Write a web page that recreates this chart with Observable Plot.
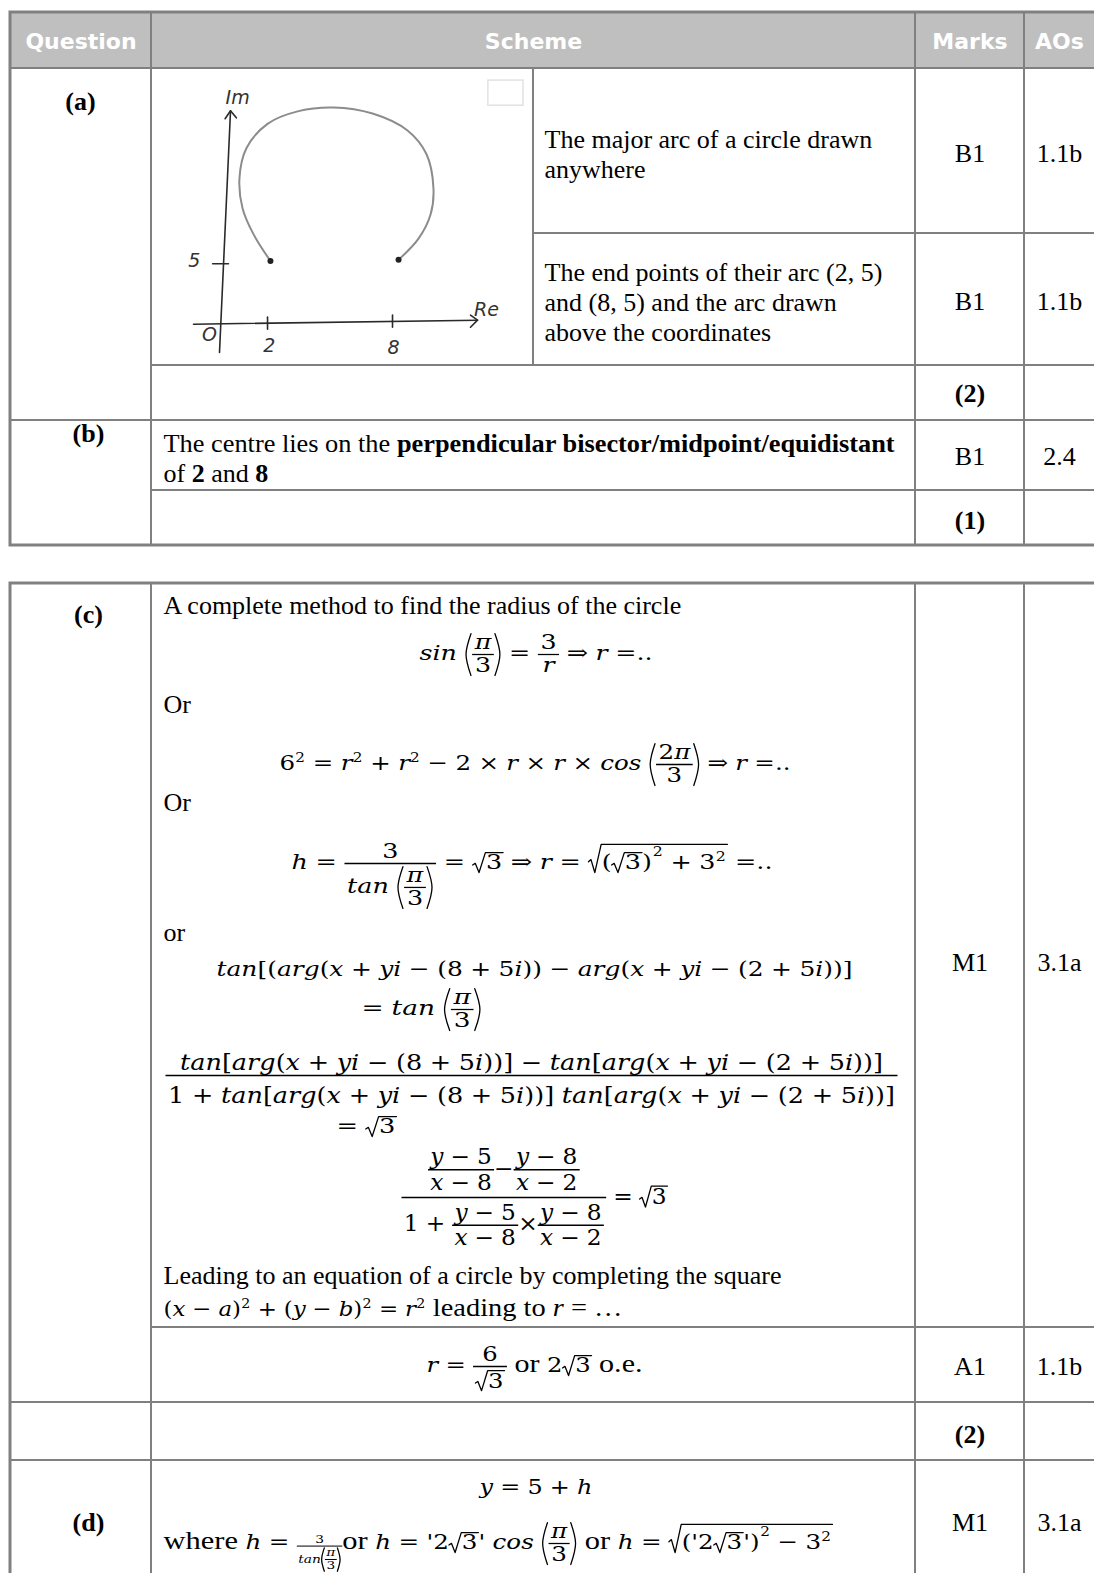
<!DOCTYPE html>
<html><head><meta charset="utf-8">
<script src="https://cdn.jsdelivr.net/npm/d3@7"></script>
<script src="https://cdn.jsdelivr.net/npm/@observablehq/plot@0.6"></script>
<style>
html,body{margin:0;padding:0;background:#fff;overflow:hidden}
#wrap{position:relative;width:1094px;height:1573px;overflow:hidden;background:#fff}
</style>
</head><body><div id="wrap"></div>
<script>
// ================= DATA =================
const headers = ["Question", "Scheme", "Marks", "AOs"];
const partLabels = ["(a)", "(b)", "(c)", "(d)"];
const marksCol = ["B1", "B1", "(2)", "B1", "(1)", "M1", "A1", "(2)", "M1"];
const aosCol = ["1.1b", "1.1b", "", "2.4", "", "3.1a", "1.1b", "", "3.1a"];
const textA1 = ["The major arc of a circle drawn", "anywhere"];
const textA2 = ["The end points of their arc (2, 5)", "and (8, 5) and the arc drawn", "above the coordinates"];
const textB = [
  [["The centre lies on the ", false], ["perpendicular bisector/midpoint/equidistant", true]],
  [["of ", false], ["2", true], [" and ", false], ["8", true]]
];
const textC = ["A complete method to find the radius of the circle", "Or", "Or", "or",
               "Leading to an equation of a circle by completing the square"];
const numerLine = "tan[arg(x + yi − (8 + 5i))] − tan[arg(x + yi − (2 + 5i))]";
const denomLine = "1 + tan[arg(x + yi − (8 + 5i))] tan[arg(x + yi − (2 + 5i))]";
const argLine = "tan[(arg(x + yi − (8 + 5i)) − arg(x + yi − (2 + 5i))]";

// hand sketch (Argand diagram), read in Re / Im units
const arcRe = [2.16, 1.35, 0.82, 0.67, 1.01, 2.02, 3.51, 5.19, 7.07, 8.75, 9.66, 10.0, 9.86, 9.28, 8.32];
const arcIm = [4.9, 7.1, 9.25, 11.75, 14.25, 16.25, 17.3, 17.6, 17.1, 15.7, 13.75, 10.9, 8.75, 6.75, 5.0];
const skStrokes = [
  {id: "v",  pts: [[-0.29, -2.67], [0.24, 17.33]]},
  {id: "va", pts: [[-0.02, 16.67], [0.24, 17.33], [0.52, 16.75]]},
  {id: "h",  pts: [[-1.54, -0.33], [12.12, 0]]},
  {id: "ha", pts: [[11.78, 0.42], [12.12, 0], [11.78, -0.58]]},
  {id: "t2", pts: [[2.02, 0.25], [2.02, -0.75]]},
  {id: "t8", pts: [[8.03, 0.42], [8.03, -0.58]]},
  {id: "t5", pts: [[-0.62, 4.67], [0.14, 4.67]]}
];
const skLabels = [
  {t: "Im", re: 0.58, im: 18.4}, {t: "Re", re: 12.55, im: 0.83}, {t: "O", re: -0.77, im: -1.25},
  {t: "2", re: 2.1, im: -2.1}, {t: "8", re: 8.08, im: -2.33}, {t: "5", re: -1.5, im: 4.9}
];

// ================= LAYOUT =================
const W = 1094, H = 1573;
const SERIF = "Liberation Serif", MATHF = "DejaVu Serif", SANS = "DejaVu Sans";
const BODY = 26, MS = 21, SPACE_EM = 0.3;
const C = {c0: 10, c1: 151, c2: 533, c3: 915, c4: 1024, c5: 1100};
const T1 = {top: 12, head: 68, split: 233, r2: 365, b: 420, r1: 490, bot: 545};
const T2 = {top: 583, a1: 1327, r2: 1402, d: 1460, bot: 1640};
const markX = (C.c3 + C.c4) / 2, aoX = 1059;
const markY = [153, 301, 393, 456, 520, 962, 1366, 1434, 1522];
const partPos = [[80, 101], [88, 433], [88, 614], [88, 1522]];

// ---------- tiny math layout engine ----------
const ctx = document.createElement("canvas").getContext("2d");
const out = {texts: [], segs: [], rads: [], parens: []};
let pid = 0;
const fontStr = (fs, it, bold, fam) => `${it ? "italic " : ""}${bold ? "bold " : ""}${fs}px "${fam}"`;
function measure(str, fs, it, bold, fam) { ctx.font = fontStr(fs, it, bold, fam); return ctx.measureText(str).width; }
function txt(str, o = {}) {
  const {it = false, bold = false, fam = MATHF, size = null, fill = "black"} = o;
  return s => {
    const fs = size ?? s;
    const w = measure(str, fs, it, bold, fam);
    return {w, a: fs * 0.7, d: fs * 0.12, draw(x, b) { out.texts.push({x, y: b, text: str, size: fs, it, bold, fam, fill, k: 1}); }};
  };
}
const gap = n => s => ({w: n * SPACE_EM * s, a: 0, d: 0, draw() {}});
const sq = s => {
  const fs = 0.62 * s; const w = measure("2", fs, false, false, MATHF);
  return {w: w + 0.03 * s, a: 0.42 * s + 0.7 * fs, d: 0,
    draw(x, b) { out.texts.push({x: x + 0.01 * s, y: b - 0.42 * s, text: "2", size: fs, it: false, bold: false, fam: MATHF, fill: "black", k: 1}); }};
};
function row(...kids) {
  return s => {
    const bs = kids.map(f => f(s));
    return {w: d3.sum(bs, b => b.w), a: d3.max(bs, b => b.a), d: d3.max(bs, b => b.d),
      draw(x, b) { let cx = x; for (const bb of bs) { bb.draw(cx, b); cx += bb.w; } }};
  };
}
function m(str) {
  const parts = str.match(/[A-Za-zπ]+| +|²|[^A-Za-zπ ²]+/g);
  return row(...parts.map(p => p[0] === " " ? gap(p.length) : p === "²" ? sq : txt(p, {it: /[A-Za-zπ]/.test(p)})));
}
const scaled = (node, k) => s => node(s * k);
const tx = (str, o = {}) => txt(str, {fam: SERIF, size: BODY, ...o});
function frac(num, den, dg = 0.15, ng = 0.14) {
  return s => {
    const n = num(s), dd = den(s);
    const pad = 0.1 * s, w = Math.max(n.w, dd.w) + 2 * pad, ax = 0.28 * s;
    const nb = ng * s + n.d, db = dg * s + dd.a;
    return {w, a: ax + nb + n.a, d: Math.max(0, db + dd.d - ax),
      draw(x, b) {
        const y = b - ax;
        out.segs.push({x1: x, x2: x + w, y: y, sw: Math.max(1, 0.06 * s)});
        n.draw(x + (w - n.w) / 2, y - nb);
        dd.draw(x + (w - dd.w) / 2, y + db);
      }};
  };
}
function sqrt(inner) {
  return s => {
    const c = inner(s); const sw = 0.5 * s, g = 0.1 * s;
    const w = sw + c.w + 0.06 * s; const a = c.a + g; const d = Math.max(c.d, 0.15 * s);
    return {w, a: a + 0.05 * s, d,
      draw(x, b) {
        const top = b - a, bot = b + d, h = bot - top, mid = top + h * 0.6; const id = pid++;
        [[x, mid + 0.02 * h], [x + 0.1 * s, mid - 0.06 * h], [x + 0.25 * s, bot], [x + sw, top], [x + w, top]]
          .forEach(([px, py]) => out.rads.push({x: px, y: py, id}));
        c.draw(x + sw + 0.02 * s, b);
      }};
  };
}
function paren(inner, o = "(", cl = ")") {
  return s => {
    const c = inner(s); const h = c.a + c.d;
    if (h < 1.15 * s) { const L = txt(o)(s), R = txt(cl)(s); return row(() => L, () => c, () => R)(s); }
    const pw = 0.3 * s, ex = 0.03 * s; const w = 2 * pw + c.w; const a = c.a + ex, d = c.d + ex;
    return {w, a, d,
      draw(x, b) {
        const top = b - a, bot = b + d, mid = (top + bot) / 2;
        let id = pid++;
        [[x + pw * 0.85, top], [x + pw * 0.2, mid], [x + pw * 0.85, bot]].forEach(([px, py]) => out.parens.push({x: px, y: py, id}));
        id = pid++; const xr = x + pw + c.w;
        [[xr + pw * 0.15, top], [xr + pw * 0.8, mid], [xr + pw * 0.15, bot]].forEach(([px, py]) => out.parens.push({x: px, y: py, id}));
        c.draw(x + pw, b);
      }};
  };
}
function sup(base, exp, k = 0.62) {
  return s => {
    const bb = base(s), e = exp(s * k); const raise = Math.max(0.42 * s, bb.a - 0.45 * e.a);
    return {w: bb.w + e.w + 0.03 * s, a: Math.max(bb.a, raise + e.a), d: bb.d,
      draw(x, b) { bb.draw(x, b); e.draw(x + bb.w + 0.03 * s, b - raise); }};
  };
}
const pi3 = () => paren(frac(m("π"), m("3")));
// place a line between the reference's left and right extents (horizontal fit)
function placeFit(node, left, right, mid, s = MS) {
  const b = node(s);
  const st = {t: out.texts.length, g: out.segs.length, r: out.rads.length, p: out.parens.length};
  b.draw(left, mid + 0.28 * s);
  const k = right != null ? (right - left) / b.w : 1;
  const fx = x => left + k * (x - left);
  out.texts.slice(st.t).forEach(d => { d.x = fx(d.x); d.k = k; });
  out.segs.slice(st.g).forEach(d => { d.x1 = fx(d.x1); d.x2 = fx(d.x2); });
  out.rads.slice(st.r).forEach(d => { d.x = fx(d.x); });
  out.parens.slice(st.p).forEach(d => { d.x = fx(d.x); });
}
function placeBody(node, x, cy, anchor = "start") {
  const b = node(MS); const x0 = anchor === "middle" ? x - b.w / 2 : x; b.draw(x0, cy + 8.5);
}

// ---------- header & cells text ----------
const headX = [(C.c0 + C.c1) / 2, (C.c1 + C.c3) / 2, markX, aoX];
headers.forEach((h, i) => placeBody(txt(h, {fam: SANS, bold: true, size: 22, fill: "white"}), headX[i], 40, "middle"));
partLabels.forEach((p, i) => placeBody(tx(p, {bold: true}), partPos[i][0], partPos[i][1], "middle"));
marksCol.forEach((t, i) => { if (t) placeBody(tx(t, {bold: t.startsWith("(")}), markX, markY[i], "middle"); });
aosCol.forEach((t, i) => { if (t) placeBody(tx(t), aoX, markY[i], "middle"); });

textA1.forEach((t, i) => placeBody(tx(t), 544, 139 + i * 30));
textA2.forEach((t, i) => placeBody(tx(t), 544, 272 + i * 30));
textB.forEach((line, i) => placeFit(row(...line.map(([t, bold]) => tx(t, {bold}))), 163, i === 0 ? 895 : null, 443 + i * 30 + 2.6));

const textCY = [605, 704, 802, 932, 1275];
textC.forEach((t, i) => placeBody(tx(t), 163, textCY[i]));

// ---------- math lines (left, right extents as in the reference) ----------
placeFit(row(m("sin "), pi3(), m(" = "), frac(m("3"), m("r")), m(" ⇒ r =..")), 419, 652, 654);
placeFit(row(m("6² = r² + r² − 2 × r × r × cos "), paren(frac(m("2π"), m("3"))), m(" ⇒ r =..")), 279, 790, 764);
placeFit(row(m("h = "), frac(m("3"), row(m("tan "), pi3())), m(" = "), sqrt(m("3")), m(" ⇒ r = "),
  sqrt(row(sup(paren(sqrt(m("3"))), m("2")), m(" + 3²"))), m(" =..")), 291, 772, 863);
placeFit(m(argLine), 216, 852, 970);
placeFit(row(m("= tan "), pi3()), 361, 481, 1009);
placeFit(frac(m(numerLine), m(denomLine), 0.55), 165, 897, 1075, 22);
placeFit(row(m("= "), sqrt(m("3"))), 336, 396, 1127);
placeFit(row(
  frac(row(frac(m("y − 5"), m("x − 8"), 0.22), m("−"), frac(m("y − 8"), m("x − 2"), 0.22)),
       row(m("1 + "), frac(m("y − 5"), m("x − 8"), 0.22), m("×"), frac(m("y − 8"), m("x − 2"), 0.22)), 0.3, 0.22),
  m(" = "), sqrt(m("3"))), 401, 667, 1197, 22);
placeFit(row(m("(x − a)² + (y − b)² = r²"), tx(" leading to "), tx("r", {it: true}), tx(" = …")), 163, 622, 1310);
placeFit(row(m("r = "), frac(m("6"), sqrt(m("3"))), tx(" or "), m("2"), sqrt(m("3")), tx(" o.e.")), 426, 642, 1366);
placeFit(m("y = 5 + h"), 479, 592, 1488);
placeFit(row(tx("where "), m("h = "), scaled(frac(m("3"), row(m("tan"), pi3())), 0.56), tx("or "),
  m("h = '2"), sqrt(m("3")), m("' cos "), pi3(), tx(" or "), m("h = "),
  sqrt(row(sup(paren(row(m("'2"), sqrt(m("3")), m("'"))), m("2")), m(" − 3²")))), 163, 832, 1543);

// ---------- table cells ----------
const headCells = [[C.c0, C.c1], [C.c1, C.c3], [C.c3, C.c4], [C.c4, C.c5]].map(([a, b]) => [a, b, T1.top, T1.head]);
const cells = [
  [C.c0, C.c1, T1.head, T1.b], [C.c1, C.c2, T1.head, T1.r2], [C.c2, C.c3, T1.head, T1.split], [C.c2, C.c3, T1.split, T1.r2],
  [C.c3, C.c4, T1.head, T1.split], [C.c3, C.c4, T1.split, T1.r2], [C.c4, C.c5, T1.head, T1.split], [C.c4, C.c5, T1.split, T1.r2],
  [C.c1, C.c3, T1.r2, T1.b], [C.c3, C.c4, T1.r2, T1.b], [C.c4, C.c5, T1.r2, T1.b],
  [C.c0, C.c1, T1.b, T1.bot], [C.c1, C.c3, T1.b, T1.r1], [C.c3, C.c4, T1.b, T1.r1], [C.c4, C.c5, T1.b, T1.r1],
  [C.c1, C.c3, T1.r1, T1.bot], [C.c3, C.c4, T1.r1, T1.bot], [C.c4, C.c5, T1.r1, T1.bot],
  [C.c0, C.c1, T2.top, T2.r2], [C.c1, C.c3, T2.top, T2.a1], [C.c3, C.c4, T2.top, T2.a1], [C.c4, C.c5, T2.top, T2.a1],
  [C.c1, C.c3, T2.a1, T2.r2], [C.c3, C.c4, T2.a1, T2.r2], [C.c4, C.c5, T2.a1, T2.r2],
  [C.c0, C.c1, T2.r2, T2.d], [C.c1, C.c3, T2.r2, T2.d], [C.c3, C.c4, T2.r2, T2.d], [C.c4, C.c5, T2.r2, T2.d],
  [C.c0, C.c1, T2.d, T2.bot], [C.c1, C.c3, T2.d, T2.bot], [C.c3, C.c4, T2.d, T2.bot], [C.c4, C.c5, T2.d, T2.bot]
];
const outlines = [[C.c0, C.c5, T1.top, T1.bot], [C.c0, C.c5, T2.top, T2.bot]];
const LINE = "#808080";
const rectOpts = {x1: d => d[0], x2: d => d[1], y1: d => d[2], y2: d => d[3]};

const textGroups = d3.groups(out.texts, d => [d.fam, d.it, d.bold, d.fill].join("|"));
const textMarks = textGroups.map(([k, arr]) => {
  const [fam, it, bold, fill] = k.split("|");
  return Plot.text(arr, {x: "x", y: "y", text: "text", fontSize: d => d.size, fontFamily: fam,
    fontStyle: it === "true" ? "italic" : "normal", fontWeight: bold === "true" ? "bold" : "normal",
    textAnchor: "start", lineAnchor: "bottom", fill});
});

const main = Plot.plot({
  width: W, height: H, margin: 0,
  x: {domain: [0, W], range: [0, W], axis: null},
  y: {domain: [0, H], range: [0, H], axis: null},
  marks: [
    Plot.rect(headCells, {...rectOpts, fill: "#bfbfbf", stroke: LINE, strokeWidth: 2}),
    Plot.rect(cells, {...rectOpts, fill: "none", stroke: LINE, strokeWidth: 2}),
    Plot.rect(outlines, {...rectOpts, fill: "none", stroke: LINE, strokeWidth: 3}),
    Plot.link(out.segs, {x1: "x1", x2: "x2", y1: "y", y2: "y", stroke: "black", strokeWidth: "sw"}),
    Plot.line(out.rads, {x: "x", y: "y", z: "id", stroke: "black", strokeWidth: 1.3}),
    Plot.line(out.parens, {x: "x", y: "y", z: "id", curve: "natural", stroke: "black", strokeWidth: 1.3}),
    ...textMarks
  ]
});
// horizontal stretch of fitted texts: the svg's <text> nodes come in mark order, then index order
const flat = textGroups.flatMap(([, arr]) => arr);
const textEls = Array.from(main.querySelectorAll("text"));
if (textEls.length === flat.length) {
  textEls.forEach((el, i) => {
    const kk = flat[i].k;
    if (!kk || Math.abs(kk - 1) < 1e-3) return;
    const tr = el.getAttribute("transform");
    if (tr && /translate/.test(tr)) el.setAttribute("transform", `${tr} scale(${kk},1)`);
    else {
      const x = parseFloat(el.getAttribute("x")) || 0, y = parseFloat(el.getAttribute("y")) || 0;
      el.setAttribute("transform", `translate(${x},${y}) scale(${kk},1) translate(${-x},${-y})${tr ? " " + tr : ""}`);
    }
  });
}
document.getElementById("wrap").appendChild(main);

// ---------- sketch ----------
const arc = arcRe.map((re, i) => ({re, im: arcIm[i]}));
const strokes = skStrokes.flatMap(s => s.pts.map(([re, im]) => ({id: s.id, re, im})));
const ends = [arc[0], arc[arc.length - 1]];
const sketch = Plot.plot({
  width: 382, height: 297, margin: 0,
  x: {domain: [-3.56, 14.81], axis: null},
  y: {domain: [-3.75, 20.83], axis: null},
  style: {background: "transparent", position: "absolute", left: C.c1 + "px", top: T1.head + "px"},
  marks: [
    Plot.rect([[12.64, 14.33, 17.75, 19.83]], {x1: d => d[0], x2: d => d[1], y1: d => d[2], y2: d => d[3], fill: "none", stroke: "#e2e2e2", strokeWidth: 1.5}),
    Plot.line(arc, {x: "re", y: "im", curve: "catmull-rom", stroke: "#8c8c8c", strokeWidth: 2}),
    Plot.line(strokes, {x: "re", y: "im", z: "id", stroke: "#2a2a2a", strokeWidth: 1.6}),
    Plot.dot(ends, {x: "re", y: "im", r: 3, fill: "#222"}),
    Plot.text(skLabels, {x: "re", y: "im", text: "t", fontSize: 19, fontFamily: SANS, fontStyle: "italic", fontWeight: 200, fill: "#333"})
  ]
});
document.getElementById("wrap").appendChild(sketch);
</script>
</body></html>
